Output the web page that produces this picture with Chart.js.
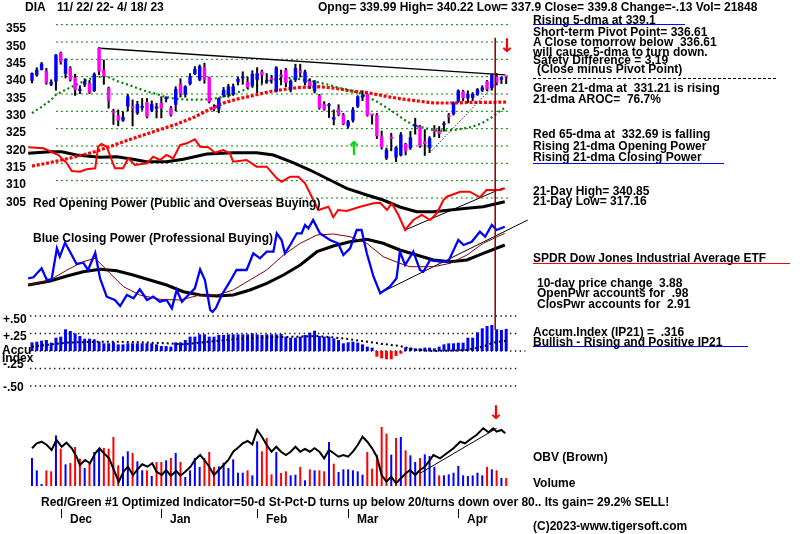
<!DOCTYPE html>
<html>
<head>
<meta charset="utf-8">
<title>DIA - TigerSoft chart</title>
<script src="https://cdn.jsdelivr.net/npm/chart.js@4.4.0/dist/chart.umd.min.js"></script>
<style>
  body { margin: 0; background: #fff; }
  #wrap { position: relative; width: 800px; height: 534px; overflow: hidden; background: #fff; }
  #chart { position: absolute; left: 0; top: 0; }
  .t { position: absolute; font-family: "Liberation Sans", Arial, sans-serif; font-weight: bold;
       font-size: 12px; line-height: 12px; white-space: pre; color: #000; transform-origin: 0 0; }
  .arrow { position: absolute; font-family: "DejaVu Sans", sans-serif; font-weight: bold;
           font-size: 19px; line-height: 19px; }
  .rule { position: absolute; height: 1px; }
  .tick { position: absolute; width: 1px; height: 9px; background: #000; }
</style>
</head>
<body>
<div id="wrap">
  <canvas id="chart" width="800" height="534"></canvas>
</div>
<script>
// DIA daily bars 11/22/22 - 4/18/23, one entry per trading day (index = day)
const opens = [338.8,340.4,342.0,341.6,337.7,338.6,346.9,340.8,342.4,339.8,
  335.9,337.7,338.1,335.9,348.3,342.0,336.7,329.9,328.9,327.3,
  331.4,331.5,329.5,331.0,332.7,330.2,330.8,332.4,333.5,331.0,
  331.9,337.9,334.8,337.9,340.8,339.1,342.7,339.8,331.4,330.5,
  334.6,334.8,335.0,338.4,339.5,338.5,337.4,339.1,341.5,338.5,
  339.3,335.8,340.6,342.0,336.3,339.1,341.8,338.2,338.7,335.8,
  334.6,332.1,331.5,327.6,330.7,329.0,325.7,327.3,331.4,334.0,
  335.0,329.0,329.0,322.8,316.5,322.3,316.7,317.3,320.6,319.4,
  325.6,325.7,321.3,319.4,324.7,324.3,326.0,328.8,329.2,332.9,
  335.8,333.8,333.9,334.8,336.0,338.7,336.7,340.1,339.1,339.99];
const highs = [341.2,342.7,344.2,342.5,339.2,346.5,347.2,345.3,343.0,340.8,
  337.5,339.5,339.0,341.2,348.5,344.9,337.1,330.7,330.5,330.0,
  335.0,333.4,333.0,333.8,333.8,333.1,332.4,334.3,334.3,331.5,
  337.2,339.5,337.5,341.0,343.0,343.5,344.0,340.0,332.0,334.0,
  337.0,337.9,338.0,340.0,341.5,340.0,341.8,342.7,342.0,341.0,
  340.5,343.0,342.0,342.5,339.2,343.7,343.7,342.0,339.5,339.0,
  335.0,332.9,332.4,330.5,332.0,329.5,327.5,331.2,334.6,336.0,
  335.2,329.2,329.5,324.4,319.5,323.8,319.9,324.0,320.9,324.3,
  328.1,326.0,324.8,322.8,326.0,325.7,327.1,329.5,332.8,336.3,
  336.2,336.0,335.5,336.7,337.5,339.0,340.85,341.0,340.0,340.22];
const lows = [338.1,340.0,341.8,337.7,337.3,336.0,343.5,339.5,338.6,334.5,
  335.0,337.0,335.0,335.6,340.5,337.7,330.8,326.1,325.7,327.0,
  330.0,325.7,329.0,330.2,328.0,329.8,328.0,328.0,332.6,328.5,
  330.0,334.0,334.0,337.5,340.5,338.7,338.0,332.3,330.0,329.5,
  334.0,334.0,334.5,337.5,337.7,336.5,337.0,335.3,338.0,338.0,
  338.0,335.5,337.5,337.0,335.5,338.5,339.8,337.5,336.5,335.2,
  330.5,330.2,328.1,326.0,328.6,326.0,325.0,326.8,331.0,333.0,
  328.5,326.2,322.0,319.0,316.0,318.5,315.4,317.0,317.3,318.9,
  323.3,319.5,317.16,318.0,322.5,322.3,324.2,326.5,328.8,332.5,
  333.0,332.4,333.0,334.5,335.6,335.8,336.0,337.5,337.9,337.9];
const closes = [341.0,342.0,343.8,338.2,338.5,346.3,344.3,345.0,339.0,336.2,
  336.5,338.7,335.4,340.8,341.5,340.1,332.9,329.5,327.3,328.4,
  334.3,330.8,332.1,331.5,328.4,332.1,331.4,330.8,333.7,328.9,
  336.4,335.0,337.2,340.1,342.2,343.0,339.1,332.7,330.5,333.8,
  336.2,337.2,337.2,339.4,340.0,336.9,340.8,341.0,340.4,339.1,
  339.0,342.7,340.0,338.2,338.8,342.5,341.2,341.5,337.2,338.7,
  331.0,330.5,332.0,328.3,329.0,326.3,327.1,330.5,334.3,334.6,
  328.8,328.8,322.8,319.6,318.9,322.1,319.6,323.3,318.5,322.5,
  325.9,319.9,320.6,322.3,324.2,323.5,326.3,328.3,332.4,336.0,
  333.8,335.0,335.0,336.3,336.9,336.3,340.6,338.2,339.8,339.8];

// Green 21-dma and red 65-dma (day, price)
const dma21Days = [0,2,4,5,8,11,13,15,16,18,20,22,24,26,28,30,32,34,36,38,40,42,44,46,48,
  50,52,54,56,58,60,62,64,66,68,70,72,74,76,78,80,82,84,86,88,90,92,94,96,98,99];
const dma21 = [329.5,331.3,333.3,334.8,336.9,338.8,339.8,340.1,339.8,338.6,
  337.7,336.7,335.7,335.0,334.1,333.6,333.4,333.4,333.4,333.6,
  334.3,335.0,336.0,337.0,337.8,339.0,339.4,339.6,339.3,338.8,
  338.3,337.6,336.8,336.2,335.4,334.2,332.8,331.1,329.3,327.3,
  325.8,325.2,324.5,324.4,324.6,325.0,325.6,326.6,328.3,330.4,331.21];
const dma65Days = [0,3,7,10,13,16,19,22,26,30,34,37,40,43,46,50,53,56,60,63,67,70,74,77,81,84,88,92,96,99];
const dma65 = [314.2,315.0,316.2,317.2,318.3,319.7,321.2,322.6,324.4,326.2,328.4,330.5,332.4,333.6,334.5,
  335.8,336.4,336.9,337.1,336.7,335.8,335.4,334.3,333.6,332.9,332.4,332.4,332.6,332.6,332.69];

// trend lines on price
const resistDays = [14.2, 98.8], resistPrice = [348.2, 340.5];
const supportDays = [83, 97.3], supportPrice = [318, 338.7];
const markerDay = 96.7;
const priceTicks = [355, 350, 345, 340, 335, 330, 325, 320, 315, 310, 305];

// Red Opening Power + its black average (chart units)
const opDays = [-0.8,2.4,5.5,7.3,8.3,10,11.4,13.2,13.8,14.5,15.6,17.3,19,20.1,21.5,24,25.3,26.7,28.1,29.5,
  30.9,32.3,34,35.1,36.8,38.2,39.9,41.3,42,44.8,46.9,49,51.1,52.1,53.9,55.6,57,58.4,59.8,61.9,
  62.9,63.9,65.7,68.5,71.3,72.7,74.1,75.1,76.5,77.9,79.6,81.4,83.1,84.5,85.9,86.6,89.4,91.4,93.5,94.9,97.7,98.7];
const opPower = [92.7,91.7,85,76.7,69,68.3,70.7,71.7,93.3,96,93.3,71.7,71.7,81.7,75,76.7,83.3,80,85,81.7,
  95,96.7,100.7,93.3,92.7,87.3,90,86.7,78.3,80,73.3,73.3,61.7,58.3,63.3,63.3,56.7,43.3,30,33.3,
  22.7,30,29,33.3,36.7,37.3,30,36.7,25,10,20,25,20,26.7,40,43.3,48.3,48.3,42.7,50,50,51.7];
const opAvgDays = [-0.8,3.8,6.2,9.3,14.2,17.7,21.1,23.9,28.1,31.6,36.5,42,46.9,50.4,54.5,58,62.2,65.7,69.9,73.3,
  76.8,80.3,83.8,87.3,90.8,94.2,98.7];
const opAvg = [86.7,88.3,88.3,85,82.7,83.3,80.7,78.3,78.3,80.7,86,87.3,87.3,85,77.3,70,60,51.7,45,40,
  33,28.3,28.3,30,31.7,33.3,38.3];
const opTrendDays = [77.9, 98.3], opTrend = [10, 52];

// Blue Closing Power + brown and black averages
const cpDays = [-0.8,0.3,2.0,3.1,4.1,5.2,5.8,6.9,8.3,9.3,10.7,11.7,13.2,14.2,15.6,17.3,18.4,19.8,21.2,22.5,
  24,25.3,26.7,28.1,29.2,30.2,31.3,33,34,35.1,36.1,37.2,37.7,38.4,39.6,41.3,42.7,44.8,46.2,47.6,
  49,50.4,51.1,52.1,52.8,53.9,55.3,56.3,57,57.7,58.7,60.1,62.2,63.9,65,66.4,67.8,68.8,69.9,71.3,
  72.7,74.7,76.1,76.8,77.9,79.6,81,81.7,83.1,85.2,86.9,89,90.1,91.8,93.5,94.6,96,97,98.7];
const cpPower = [41.7,42.7,51.7,40,40.7,71.7,63.3,77.3,65,56,57.3,50,67.3,41.7,23.3,20,14,25,21.7,30.7,
  20,23.3,18.3,20,11.7,30,18.3,26.7,31.7,50.7,40,10,8,12,25,38.3,50,50,66.7,61.7,
  68.3,68.3,86.7,80,66.7,75,86.7,86.7,95,91.7,100,86.7,80,76.7,65,71.7,90,90,66.7,43.3,
  26.7,33.3,41.7,68.3,55,68.3,50,48.3,60,58.3,58.3,80,75,78.3,88.3,83.3,95,90,93.3];
const cpAvgDays = [-0.8,3.8,7.3,10.7,13.2,15.6,19.1,22.5,26.7,30.9,35.1,38.6,42,45.5,49,52.5,56,59.5,62.9,66.4,
  69.9,73.3,76.8,78.9,83.8,87.3,90.8,94.2,98.7];
const cpAvg = [35,40,50,58.3,61.7,50,33.3,25,20.7,20,25,25,30,40,50,65,76.7,85,86,83.3,
  76.7,63.3,56.7,53.3,53.3,56.7,65,76.7,86.7];
const cpSlowDays = [-0.8,3.8,7.3,10.7,14.2,17.7,21.1,24.6,28.1,31.6,35.1,38.6,42,45.5,49,52.5,56,59.5,62.9,66.4,
  69.9,73.3,76.8,80.3,83.8,87.3,90.8,94.2,98.7];
const cpSlow = [35,39,44,48.3,50.7,49.3,45,40,35,28.3,25,24,25,30,36.7,45,55,68.3,74,78.3,
  80.7,76.7,70,65,60,58.3,60,66.7,75];
const cpTrendDays = [72.7, 103.5], cpTrend = [27, 100];

// Accumulation Index (IP21), daily, and its dotted average
const accum = [0.124,0.133,0.148,0.157,0.119,0.190,0.205,0.310,0.286,0.252,
  0.214,0.176,0.176,0.167,0.133,0.110,0.110,0.124,0.095,0.095,
  0.110,0.110,0.110,0.110,0.110,0.110,0.095,0.071,0.071,0.062,
  0.124,0.124,0.157,0.205,0.205,0.238,0.238,0.205,0.205,0.229,
  0.229,0.238,0.238,0.238,0.238,0.238,0.252,0.238,0.229,0.238,
  0.238,0.238,0.243,0.205,0.190,0.190,0.205,0.229,0.262,0.290,
  0.214,0.205,0.205,0.181,0.157,0.110,0.124,0.133,0.119,0.095,
  0.062,0.048,-0.081,-0.105,-0.119,-0.119,-0.071,-0.040,0.052,0.048,
  0.038,0.038,0.048,0.048,0.038,0.062,0.095,0.110,0.110,0.119,
  0.119,0.190,0.190,0.267,0.324,0.357,0.371,0.310,0.300,0.316];
const accumAvgDays = [0,7.2,14.2,21.2,28.1,31.6,35.1,42,49,55.9,59.4,62.9,66.4,69.9,73.3,76.8,80.3,83.8,87.3,90.7,94.2,96.3,99];
const accumAvg = [0.062,0.119,0.133,0.129,0.110,0.095,0.119,0.167,0.195,0.205,0.214,0.195,0.167,0.133,0.100,0.071,
  0.014,0,0.005,0.014,0.062,0.119,0.148];
const accumTicks = [0.5, 0.25, 0, -0.25, -0.5];

// Volume (hundreds) with bar colour code B = blue, R = red
const volume = [75600,42300,3600,42300,39600,136800,100800,58500,62100,105300,
  73800,48600,60300,91800,102600,102600,100800,132300,55800,80100,
  93600,89100,66600,42300,42300,27000,64800,64800,69300,75600,
  89100,64800,24300,42300,75600,51300,75600,91800,51300,53100,
  63000,48600,72000,36000,36000,42300,28800,120600,93600,129600,
  31500,91800,35100,39600,28800,30600,51300,15300,45000,42300,
  42300,39600,118800,60300,37800,45000,45000,42300,39600,30600,
  91800,46800,84600,159300,141300,84600,129600,132300,96300,82800,
  64800,75600,85500,81000,51300,28800,28800,31500,36000,54000,
  28800,27000,28800,36000,28800,51300,45000,42300,21600,21848];
const volColor = "BBBRRBRBRR" + "RBRBBRRRRB" + "BRBBRBRRBR" + "BRBBBBRRRB" + "BBBBBRBBRR" +
  "RBRRBBRBRB" + "RRBRBBBBBB" + "RRRRRBRBRB" + "BRBBBRBBBB" + "BBBBBRBRBR";

// OBV line (chart units)
const obvDays = [0,1,2,3.1,4.1,5.1,6.2,7.2,8.3,9.3,10,11.1,12.1,13.2,14.1,15,16.1,17.1,18.1,19.1,
  20,21.1,22.1,23,24.1,25.1,26,27.1,28,29,30.1,31,32,33.1,34,35.1,36,37,38,39,
  40,41,42,43,44,45,46,47,48,49,50,51,52,53,54,55,56,57,58,59,
  60,61,62,63,64,65,66,67,68,69,70,71,72,73,74,75,76,
  77.9,78.9,80,81,82,83.1,83.8,85.2,86.6,88,89.4,90.4,91.8,92.8,94.2,95.3,96.3,97,98,98.8];
const obv = [37.7,42.7,44.3,41,36,46,39.3,43.3,37.7,29.3,21,26,22.7,32.7,37.7,32.7,27.7,16,4.3,14.3,
  19.3,11,17,21.7,19.3,22.7,14.3,11,16,10.3,15,10.3,14.3,19.3,26,31,26,19.3,11,16,
  21,26,34.3,38.3,42.7,45,41.7,56,49.3,41,34.3,39.3,34.3,31,34.3,39.3,34.3,37,34.3,37.7,
  34.3,27.7,36,32.7,29.3,31,29.3,34.3,41,49.3,44.3,37.7,29.3,11,4.3,9.3,2.7,
  12,16,11,16,19.3,26,31,27.7,32.7,37.7,44.3,42.7,47.7,51,57.7,53.7,57.7,54.3,56,52.7];
const obvTrendDays = [81, 97], obvTrend = [12.7, 57.7];

// month boundaries on the day axis
const monthStarts = [6, 27, 47, 66, 89];
const monthNames = ["Dec", "Jan", "Feb", "Mar", "Apr"];

// ---------- helpers ----------
const pts = (xs, ys) => xs.map((x, k) => ({ x: x, y: ys[k] }));
const daily = (ys) => ys.map((y, i) => ({ x: i, y: y }));

function lineSet(data, axis, color, width, order, extra) {
  return Object.assign({
    type: "line", data: data, yAxisID: axis, borderColor: color, borderWidth: width,
    pointRadius: 0, fill: false, tension: 0, order: order
  }, extra || {});
}

function barSet(data, axis, colors, thick, order) {
  return {
    type: "bar", data: data, yAxisID: axis, backgroundColor: colors, borderWidth: 0,
    grouped: false, maxBarThickness: thick, minBarLength: 2, order: order
  };
}

// ---------- datasets ----------
const candleColors = closes.map((c, i) => (c >= opens[i] ? "#0000ff" : "#ff00ff"));
const datasets = [
  lineSet(pts([markerDay, markerDay], [351.2, 266.9]), "yPrice", "#800000", 1.5, 0),
  barSet(daily(opens.map((o, i) => [o, closes[i]])), "yPrice", candleColors, 4, 1),
  barSet(daily(lows.map((l, i) => [l, highs[i]])), "yPrice", "#000000", 2, 2),
  lineSet(pts(resistDays, resistPrice), "yPrice", "#000000", 1.3, 3),
  lineSet(pts(supportDays, supportPrice), "yPrice", "#000000", 1, 3, { borderDash: [1, 1.5] }),
  lineSet(pts(dma21Days, dma21), "yPrice", "#008000", 2.2, 4, { borderDash: [2, 2.8] }),
  lineSet(pts(dma65Days, dma65), "yPrice", "#ff0000", 3.2, 5, { borderDash: [3, 1.8] }),

  lineSet(pts(opDays, opPower), "yOp", "#ff0000", 2, 6),
  lineSet(pts(opAvgDays, opAvg), "yOp", "#000000", 3, 7),
  lineSet(pts(opTrendDays, opTrend), "yOp", "#000000", 1, 7),

  lineSet(pts(cpDays, cpPower), "yCp", "#0000ff", 2.3, 6),
  lineSet(pts(cpAvgDays, cpAvg), "yCp", "#800000", 1, 7),
  lineSet(pts(cpSlowDays, cpSlow), "yCp", "#000000", 3, 8),
  lineSet(pts(cpTrendDays, cpTrend), "yCp", "#000000", 1, 8),

  barSet(daily(accum), "yAcc", accum.map((v) => (v < 0 ? "#ff0000" : "#0000ff")), 3, 9),
  lineSet(pts(accumAvgDays, accumAvg), "yAcc", "#000000", 2, 8, { borderDash: [2, 3] }),

  lineSet(pts(obvDays, obv), "yObv", "#000000", 2, 9),
  lineSet(pts(obvTrendDays, obvTrend), "yObv", "#000000", 1, 9),
  barSet(daily(volume), "yVol", volColor.split("").map((c) => (c === "B" ? "#0000ff" : "#ff0000")), 2, 10)
];

// dotted grid lines from the tick lists
priceTicks.forEach((t) => {
  datasets.push(lineSet(pts([5, 99.8], [t, t]), "yPrice", "#008000", 1, 20, { borderDash: [2, 3] }));
});
accumTicks.forEach((t) => {
  const end = t === 0 ? 103 : 101.5;
  datasets.push(lineSet(pts([-0.4, end], [t, t]), "yAcc", "#000000", 1.3, 20, { borderDash: [1.3, 3.5] }));
});

// ---------- chart ----------
const x0 = 32, dayPx = 4.79;
const hidden = (min, max) => ({ type: "linear", display: false, min: min, max: max });

const chart = new Chart(document.getElementById("chart").getContext("2d"), {
  type: "line",
  data: { datasets: datasets },
  options: {
    responsive: false,
    animation: false,
    events: [],
    layout: { padding: 0 },
    plugins: { legend: { display: false }, tooltip: { enabled: false } },
    scales: {
      x: { type: "linear", display: false, offset: false, min: -x0 / dayPx, max: (800 - x0) / dayPx },
      yPrice: hidden(208.05, 362.12),
      yOp: hidden(-294, 240),
      yCp: hidden(-214, 320),
      yAcc: hidden(-2.6143, 5.0143),
      yVol: hidden(-129600, 1312200),
      yObv: hidden(-48, 486)
    }
  }
});

// ---------- text ----------
const wrap = document.getElementById("wrap");

function addText(txt, x, cy, w, color) {
  const d = document.createElement("div");
  d.className = "t";
  d.textContent = txt;
  d.style.left = x + "px";
  d.style.top = (cy - 6) + "px";
  if (color) d.style.color = color;
  if (w) d.dataset.w = w;
  wrap.appendChild(d);
  return d;
}

function addRule(x1, x2, y, style) {
  const r = document.createElement("div");
  r.className = "rule";
  r.style.left = x1 + "px";
  r.style.width = (x2 - x1) + "px";
  r.style.top = y + "px";
  r.style.background = style;
  wrap.appendChild(r);
}

function addArrow(ch, x, y, color) {
  const a = document.createElement("div");
  a.className = "arrow";
  a.textContent = ch;
  a.style.left = x + "px";
  a.style.top = y + "px";
  a.style.color = color;
  wrap.appendChild(a);
}

addText("DIA", 25, 7, 18);
addText("11/ 22/ 22- 4/ 18/ 23", 57, 7, 125);
addText("Opng= 339.99 High= 340.22 Low= 337.9 Close= 339.8 Change=-.13 Vol= 21848", 318, 7, 477);

const sideNotes = [
  ["Rising 5-dma at 339.1", 533, 19.5, 125],
  ["Short-term Pivot Point= 336.61", 533, 32, 173],
  ["A Close tomorrow below  336.61", 533, 42, 182],
  ["will cause 5-dma to turn down.", 533, 51.7, 172],
  ["Safety Difference = 3.19", 533, 60, 141],
  ["(Close minus Pivot Point)", 537, 69, 142],
  ["Green 21-dma at  331.21 is rising", 533, 88, 188],
  ["21-dma AROC=  76.7%", 533, 99, 130],
  ["Red 65-dma at  332.69 is falling", 533, 133.8, 182],
  ["Rising 21-dma Opening Power", 533, 145.8, 171],
  ["Rising 21-dma Closing Power", 533, 156.5, 164],
  ["21-Day High= 340.85", 533, 190.8, 122],
  ["21-Day Low= 317.16", 533, 200.5, 118],
  ["SPDR Dow Jones Industrial Average ETF", 533, 258.3, 233],
  ["10-day price change  3.88", 537, 282.5, 150],
  ["OpenPwr accounts for  .98", 537, 292.8, 152],
  ["ClosPwr accounts for  2.91", 537, 303.5, 151],
  ["Accum.Index (IP21) =  .316", 533, 332, 155],
  ["Bullish - Rising and Positive IP21", 533, 341.7, 187],
  ["OBV (Brown)", 533, 456.7, 72],
  ["Volume", 533, 483, 40],
  ["(C)2023-www.tigersoft.com", 533, 525.5, 152]
];
sideNotes.forEach((n) => addText(n[0], n[1], n[2], n[3]));

addRule(533, 685, 24, "#0000ff");
addRule(533, 777, 78, "repeating-linear-gradient(90deg,#000 0 3px,transparent 3px 5px)");
addRule(533, 724, 163, "#0000ff");
addRule(533, 790, 263, "#ff0000");
addRule(533, 748, 346, "#0000ff");

addText("Red Opening Power (Public and Overseas Buying)", 33, 203, 282);
addText("Blue Closing Power (Professional Buying)", 33, 238, 230);
addText("Red/Green #1 Optimized Indicator=50-d St-Pct-D turns up below 20/turns down over 80.. Its gain= 29.2% SELL!", 41, 501.7, 634);

// axis labels placed through the chart scales
const yPrice = chart.scales.yPrice;
priceTicks.forEach((t) => addText(String(t), 6, yPrice.getPixelForValue(t) + 3.7, 11));

addText("+.50", 3, 319, 23);
addText("+.25", 3, 336, 23);
addText("Accu", 2, 349.5, 29);
addText("Index", 2, 357.5, 30);
addText("-.25", 3, 363.5, 23);
addText("-.50", 3, 387, 23);

const xs = chart.scales.x;
monthStarts.forEach((m, k) => {
  const px = Math.round(xs.getPixelForValue(m));
  const tk = document.createElement("div");
  tk.className = "tick";
  tk.style.left = px + "px";
  tk.style.top = "509px";
  wrap.appendChild(tk);
  addText(monthNames[k], px + 9, 518.8, 21);
});

addArrow("\u2193", 499, 36, "#ff0000");
addArrow("\u2193", 488, 403, "#ff0000");
addArrow("\u2191", 346, 139, "#00e000");

// squeeze each text to the width it has in the original picture
function fitText() {
  document.querySelectorAll(".t").forEach((d) => {
    if (!d.dataset.w) return;
    const w = d.getBoundingClientRect().width;
    if (w > 0) d.style.transform = "scaleX(" + (d.dataset.w / w) + ")";
  });
}
document.fonts.ready.then(fitText);
fitText();
</script>
</body>
</html>
